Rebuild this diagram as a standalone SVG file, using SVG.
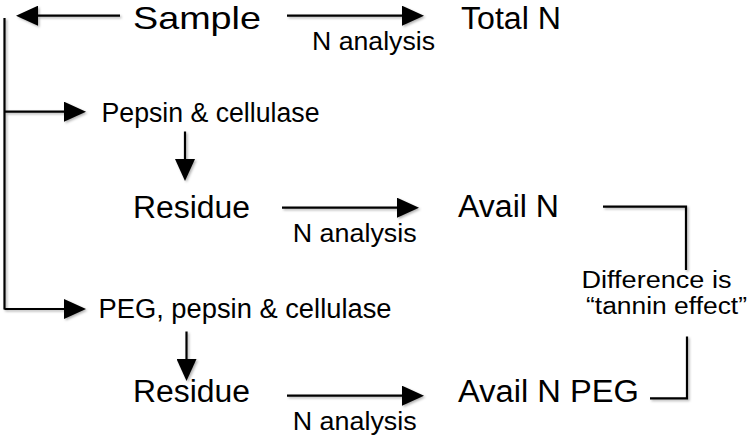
<svg xmlns="http://www.w3.org/2000/svg" width="748" height="440" viewBox="0 0 748 440">
<style>
text{font-family:"Liberation Sans",Arial,Helvetica,sans-serif;fill:#000}
.big{font-size:31px}
.mid{font-size:27px}
.sm{font-size:26px}
.note{font-size:23px}
.ln{fill:none;stroke:#000;stroke-width:2.2}
.arr{marker-end:url(#ah)}
</style>
<defs>
<marker id="ah" viewBox="0 0 22 20" markerWidth="22" markerHeight="20" refX="1" refY="10" orient="auto" markerUnits="userSpaceOnUse">
<path d="M0,0 L22,10 L0,20 Z" fill="#000"/>
</marker>
<filter id="sh" x="-10%" y="-10%" width="130%" height="130%">
<feDropShadow dx="1.5" dy="1.5" stdDeviation="1" flood-color="#000" flood-opacity="0.3"/>
</filter>
</defs>
<g id="connectors" filter="url(#sh)">
<path class="ln arr" d="M120,15.7 L37,15.7"/>
<path class="ln arr" d="M287,15.7 L403,15.7"/>
<path class="ln" d="M4.5,18 L4.5,309.5"/>
<path class="ln arr" d="M4.5,111.7 L65,111.7"/>
<path class="ln arr" d="M4.5,309 L65,309"/>
<path class="ln arr" d="M185,131.5 L185,160"/>
<path class="ln arr" d="M186.5,331.5 L186.5,360"/>
<path class="ln arr" d="M282,207.7 L398,207.7"/>
<path class="ln arr" d="M287,395.7 L403,395.7"/>
<path class="ln" d="M603,206.7 L686,206.7 L686,270"/>
<path class="ln" d="M687,336.5 L687,398.3 L650,398.3"/>
</g>
<g id="sample"><text x="133" y="29" style="font-size:32px" textLength="128" lengthAdjust="spacingAndGlyphs">Sample</text></g>
<g id="total-n"><text class="big" x="461" y="28.5" textLength="100" lengthAdjust="spacingAndGlyphs">Total N</text></g>
<g id="label-n1"><text class="sm" x="312" y="50" textLength="123" lengthAdjust="spacingAndGlyphs">N analysis</text></g>
<g id="pepsin"><text class="mid" x="101.5" y="122" textLength="218" lengthAdjust="spacingAndGlyphs">Pepsin &amp; cellulase</text></g>
<g id="residue1"><text class="big" x="133" y="218" textLength="117" lengthAdjust="spacingAndGlyphs">Residue</text></g>
<g id="label-n2"><text class="sm" x="292.7" y="242" textLength="124" lengthAdjust="spacingAndGlyphs">N analysis</text></g>
<g id="avail-n"><text class="big" x="458" y="217" textLength="101" lengthAdjust="spacingAndGlyphs">Avail N</text></g>
<g id="difference">
<text class="note" x="581.5" y="288.3" textLength="150" lengthAdjust="spacingAndGlyphs">Difference is</text>
<text class="note" x="586" y="314.3" textLength="161" lengthAdjust="spacingAndGlyphs">“tannin effect”</text>
</g>
<g id="peg-pepsin"><text class="mid" x="98.5" y="318" textLength="293" lengthAdjust="spacingAndGlyphs">PEG, pepsin &amp; cellulase</text></g>
<g id="residue2"><text class="big" x="133" y="401.5" textLength="117" lengthAdjust="spacingAndGlyphs">Residue</text></g>
<g id="label-n3"><text class="sm" x="292.7" y="430" textLength="124" lengthAdjust="spacingAndGlyphs">N analysis</text></g>
<g id="avail-n-peg"><text class="big" x="458" y="401.5" textLength="181" lengthAdjust="spacingAndGlyphs">Avail N PEG</text></g>
</svg>
